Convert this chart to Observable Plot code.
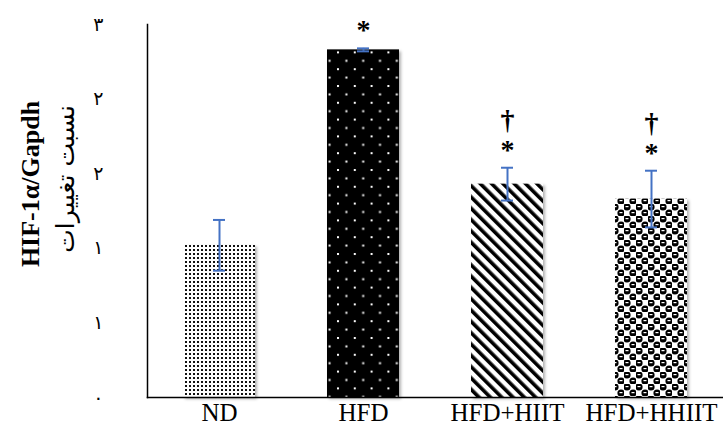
<!DOCTYPE html>
<html><head><meta charset="utf-8">
<script src="https://cdn.jsdelivr.net/npm/d3@7"></script>
<script src="https://cdn.jsdelivr.net/npm/@observablehq/plot@0.6"></script>
<style>body{margin:0;background:#fff} #chart{width:723px;height:435px}</style>
</head><body>
<svg width="0" height="0" style="position:absolute">
  <defs>
    <pattern id="pND" patternUnits="userSpaceOnUse" width="4" height="4">
      <rect width="4" height="4" fill="#fff"/><rect x="1" y="1" width="2" height="2" fill="#111"/>
    </pattern>
    <pattern id="pHFD" patternUnits="userSpaceOnUse" width="16.8" height="16.8">
      <rect width="16.8" height="16.8" fill="#000"/>
      <rect x="1" y="1" width="2" height="2" fill="#fff"/>
      <rect x="9.4" y="9.4" width="2" height="2" fill="#fff"/>
    </pattern>
    <pattern id="pHIIT" patternUnits="userSpaceOnUse" width="8" height="8" patternTransform="rotate(-45)">
      <rect width="8" height="8" fill="#fff"/><rect x="0" y="0" width="3.6" height="8" fill="#000"/>
    </pattern>
    <pattern id="pHHIIT" patternUnits="userSpaceOnUse" width="12" height="12">
      <rect width="12" height="12" fill="#fff"/>
      <circle cx="3" cy="3" r="3.6" fill="#000"/>
      <circle cx="9" cy="9" r="3.6" fill="#000"/>
      <rect x="1.5" y="2" width="3" height="1.2" fill="#fff"/>
      <rect x="7.5" y="8" width="3" height="1.2" fill="#fff"/>
    </pattern>
  </defs>
</svg>
<div id="chart"></div>
<script>
const categories = ["ND", "HFD", "HFD+HIIT", "HFD+HHIIT"];
const values = [1.02, 2.33, 1.43, 1.33];
const errors = [0.17, 0.01, 0.11, 0.19];
const marks = ["", "*", "†\n*", "†\n*"];
const patterns = ["url(#pND)", "url(#pHFD)", "url(#pHIIT)", "url(#pHHIIT)"];
const yTicks = [0, 0.5, 1, 1.5, 2, 2.5];
const yTitleEn = "HIF-1α/Gapdh";
const yTitleFa = "نسبت تغییرات";

const data = categories.map((c, i) => ({cat: c, value: values[i], err: errors[i], mark: marks[i], pat: patterns[i]}));
const fa = d => String(Math.round(d)).replace(/\d/g, c => "۰۱۲۳۴۵۶۷۸۹"[+c]);
const blue = "#4472C4";

const plot = Plot.plot({
  width: 723, height: 435,
  marginLeft: 147, marginRight: 0, marginTop: 24, marginBottom: 38,
  style: {fontFamily: "'Liberation Serif', 'Times New Roman', serif", color: "#000", background: "#fff"},
  x: {domain: categories, paddingInner: 0.5, paddingOuter: 0.25, label: null},
  y: {domain: [0, 2.5], label: null},
  color: {type: "identity"},
  marks: [
    Plot.barY(data, {x: "cat", y: "value", fill: "pat"}),
    Plot.ruleX(data, {x: "cat", y1: d => d.value - d.err, y2: d => d.value + d.err, stroke: blue, strokeWidth: 2}),
    Plot.tickY(data, {x: "cat", y: d => d.value - d.err, stroke: blue, strokeWidth: 2, insetLeft: 30, insetRight: 30}),
    Plot.tickY(data, {x: "cat", y: d => d.value + d.err, stroke: blue, strokeWidth: 2, insetLeft: 30, insetRight: 30}),
    Plot.frame({anchor: "left", stroke: "#000", strokeWidth: 1.5}),
    Plot.frame({anchor: "bottom", stroke: "#000", strokeWidth: 1.5}),
    Plot.axisX({tickSize: 0, tickPadding: 6, fontSize: 25, label: null}),
    Plot.axisY({ticks: yTicks, tickSize: 0, tickPadding: 44, tickFormat: fa, fontSize: 19, label: null, fontFamily: "DejaVu Sans"}),
    Plot.text(data, {x: "cat", y: d => d.value + d.err, text: "mark", lineAnchor: "bottom", dy: -9, fontSize: 28, lineHeight: 1.05, fontWeight: "bold"}),
    Plot.text([yTitleEn], {frameAnchor: "left", textAnchor: "middle", dx: -117, dy: -27, rotate: -90, fontSize: 26, fontWeight: "bold"}),
    Plot.text([yTitleFa], {frameAnchor: "left", textAnchor: "middle", dx: -82, dy: -32, rotate: -90, fontSize: 25, fontFamily: "DejaVu Sans"})
  ]
});
d3.select(plot).select('g[aria-label="bar"]').style("filter", "drop-shadow(2px 2px 1.5px rgba(0,0,0,0.3))");
document.getElementById("chart").appendChild(plot);
</script>
</body></html>
